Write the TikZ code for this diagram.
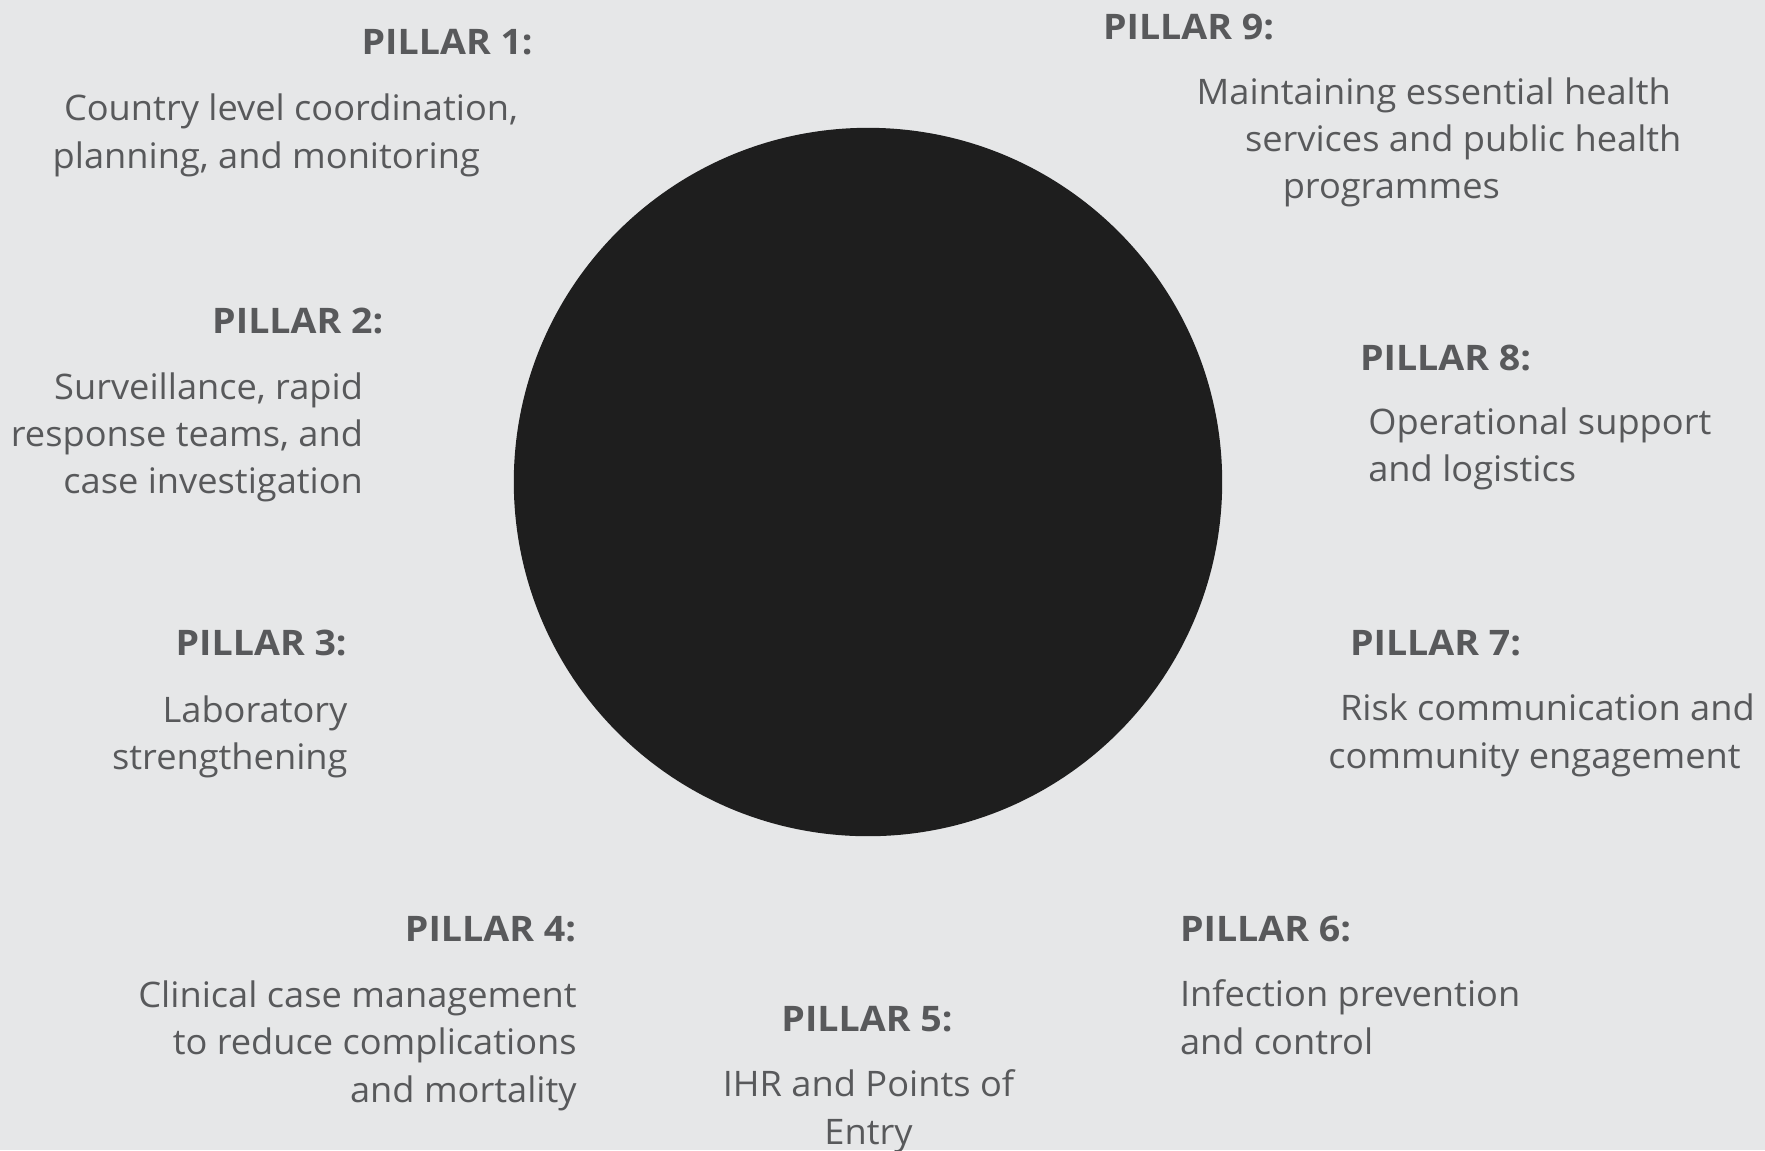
\documentclass[tikz,border=0pt]{standalone}
\usepackage{fontspec}
\setmainfont{Open Sans}[FakeStretch=1.03, BoldFeatures={FakeStretch=1.068}]
\definecolor{bggray}{HTML}{E6E7E8}
\definecolor{txtgray}{HTML}{58595B}
\definecolor{discblack}{HTML}{1E1E1E}

\begin{document}
\begin{tikzpicture}[x=0.01cm, y=-0.01cm,
    every node/.style={inner sep=0pt, outer sep=0pt, text=txtgray, font=\fontsize{10}{13.46}\selectfont},
    pillar/.style={font=\fontsize{10}{13.46}\selectfont\bfseries},
    desc/.style={font=\fontsize{10}{13.46}\selectfont}]
        \useasboundingbox (0,0) rectangle (1765,1150);
        \fill[bggray] (0,0) rectangle (1765,1150);
        \fill[discblack] (868,482) circle [radius=3.54cm];
        
        % Left side
        \node[pillar, anchor=base east] (p1) at (532.7,54) {PILLAR 1:};
        \node[desc, anchor=north west, align=left] (d1) at (52.7,94) {\hspace*{0.113cm}Country level coordination,\\planning, and monitoring};
        \node[pillar, anchor=base east] (p2) at (383.3,333.3) {PILLAR 2:};
        \node[desc, anchor=north east, align=right] (d2) at (363,372.5) {Surveillance, rapid\\response teams, and\\case investigation};
        \node[pillar, anchor=base east] (p3) at (346.7,655) {PILLAR 3:};
        \node[desc, anchor=north east, align=right] (d3) at (347.5,695.8) {Laboratory\\strengthening};
        \node[pillar, anchor=base east] (p4) at (576,941.7) {PILLAR 4:};
        \node[desc, anchor=north east, align=right] (d4) at (576.7,980.8) {Clinical case management\\to reduce complications\\and mortality};
        
        % Bottom
        \node[pillar, anchor=base] (p5) at (867,1031.7) {PILLAR 5:};
        \node[desc, anchor=north, align=center] (d5) at (868.5,1069.8) {IHR and Points of\\Entry};
        
        % Right side
        \node[pillar, anchor=base west] (p6) at (1180,941.7) {PILLAR 6:};
        \node[desc, anchor=north west, align=left] (d6) at (1180,979.8) {Infection prevention\\and control};
        \node[pillar, anchor=base west] (p7) at (1350,655) {PILLAR 7:};
        \node[desc, anchor=north west, align=left] (d7) at (1328.3,694.1) {\hspace*{0.117cm}Risk communication and\\community engagement};
        \node[pillar, anchor=base west] (p8) at (1360,370) {PILLAR 8:};
        \node[desc, anchor=north west, align=left] (d8) at (1368.3,407.5) {Operational support\\and logistics};
        \node[pillar, anchor=base west] (p9) at (1103,39.3) {PILLAR 9:};
        \node[desc, anchor=north west, align=left] (d9) at (1196.7,77.5) {Maintaining essential health\\\hspace*{0.483cm}services and public health\\\hspace*{0.86cm}programmes};
    \end{tikzpicture}
\end{document}
